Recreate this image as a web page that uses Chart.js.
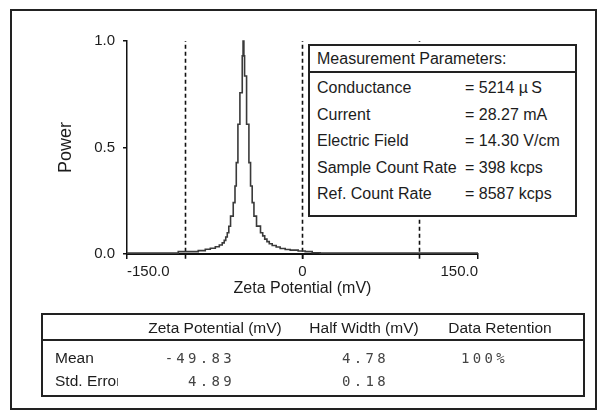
<!DOCTYPE html>
<html><head><meta charset="utf-8">
<script src="https://cdn.jsdelivr.net/npm/chart.js@4.4.1/dist/chart.umd.min.js"></script>
<style>
html,body{margin:0;padding:0;background:#fff;width:606px;height:419px;overflow:hidden}
#wrap{position:relative;width:606px;height:419px;font-family:"Liberation Sans",Arial,sans-serif;color:#1c1c1c}
#c{position:absolute;left:0;top:0}
.abs{position:absolute;white-space:nowrap}
#frame{position:absolute;left:10px;top:9px;width:587px;height:401px;border:2px solid #222;box-sizing:border-box}
#params{position:absolute;left:308px;top:44px;width:269px;height:173px;border:2px solid #222;box-sizing:border-box;background:#fff}
.sep{position:absolute;left:0;right:0;border-top:2px solid #222}
.t16{font-size:16px;line-height:20px}
.t15{font-size:15.5px;line-height:20px}
#table{position:absolute;left:41px;top:313px;width:544px;height:84px;border:2px solid #222;box-sizing:border-box}
.num{font-family:"DejaVu Sans Mono",monospace;font-size:14px;line-height:20px;letter-spacing:3.3px;color:#444}
</style></head><body>
<div id="wrap">
<canvas id="c" width="606" height="419"></canvas>
<div id="frame"></div>
<div id="params"></div>
<div id="table"></div>
</div>
<script>
// ---- data ----
const zetaMV = [-150, -106.2, -89.1, -83.1, -78.8, -74.5, -71.1, -68.6, -66.9, -65.6, -64.3, -63.0, -61.5, -59.2, -57.7, -56.6, -55.2, -53.5, -51.5, -50.8, -50.1, -49.5, -47.8, -45.8, -44.4, -43.0, -41.5, -39.3, -35.9, -34.0, -32.3, -30.4, -28.4, -25.9, -22.5, -19.1, -14.8, -10.5, -3.7, 2.3, 8.3, 15.1, 150];
const power  = [0.004, 0.011, 0.016, 0.022, 0.027, 0.034, 0.042, 0.052, 0.064, 0.08, 0.10, 0.13, 0.178, 0.241, 0.319, 0.429, 0.609, 0.757, 0.93, 1.0, 0.93, 0.836, 0.609, 0.429, 0.319, 0.241, 0.178, 0.131, 0.10, 0.085, 0.07, 0.058, 0.048, 0.04, 0.033, 0.026, 0.021, 0.018, 0.014, 0.011, 0.006, 0.004, 0.004];
const xTickValues = [-150, 0, 150];
const yTickValues = [0, 0.5, 1];
const markerLinesMV = [-100, 0, 100];
const markerLineSpan = [-0.022, 1];
const paramTitle = "Measurement Parameters:";
const paramLabels = ["Conductance", "Current", "Electric Field", "Sample Count Rate", "Ref. Count Rate"];
const paramValues = ["5214 \u00b5\u2009S", "28.27 mA", "14.30 V/cm", "398 kcps", "8587 kcps"];
const tableColumns = ["Zeta Potential (mV)", "Half Width (mV)", "Data Retention"];
const tableRows = ["Mean", "Std. Error"];
const meanValues = ["-49.83", "4.78", "100%"];
const stdErrorValues = ["4.89", "0.18", ""];

const FONT = '"Liberation Sans", Arial, sans-serif';
const TXT = '#1c1c1c';

// ---- chart ----
new Chart(document.getElementById('c'), {
  type: 'line',
  data: {
    datasets: [
      { data: zetaMV.map((x, i) => ({x: x, y: power[i]})), stepped: true, borderColor: '#3a3a3a', borderWidth: 1.6, pointRadius: 0, fill: false, clip: false },
      ...markerLinesMV.map(v => ({ data: markerLineSpan.map(y => ({x: v, y: y})), borderColor: '#111', borderWidth: 1.6, borderDash: [4, 3], pointRadius: 0, fill: false, clip: false }))
    ]
  },
  options: {
    responsive: false, animation: false, events: [],
    layout: { padding: { left: 0, right: 128, top: 41, bottom: 115 } },
    plugins: { legend: { display: false }, tooltip: { enabled: false } },
    scales: {
      x: {
        type: 'linear', position: 'bottom', min: -150, max: 150,
        afterBuildTicks: s => { s.ticks = xTickValues.map(v => ({value: v})); },
        afterFit: s => { s.height = 50; },
        ticks: { align: 'inner', autoSkip: false, maxRotation: 0, padding: 4, color: TXT, font: {family: FONT, size: 15},
                 callback: v => v === 0 ? '0' : v.toFixed(1) },
        grid: { drawOnChartArea: false, drawTicks: true, tickLength: 5, color: '#111', lineWidth: 1.5 },
        border: { display: true, color: '#111', width: 2 },
        title: { display: true, text: 'Zeta Potential (mV)', color: TXT, font: {family: FONT, size: 16}, padding: {top: 0, bottom: 6} }
      },
      y: {
        type: 'linear', position: 'left', min: 0, max: 1,
        afterBuildTicks: s => { s.ticks = yTickValues.map(v => ({value: v})); },
        afterFit: s => { s.width = 127; },
        ticks: { padding: 8, color: TXT, font: {family: FONT, size: 15}, callback: v => v.toFixed(1) },
        grid: { drawOnChartArea: false, drawTicks: true, tickLength: 4, color: '#111', lineWidth: 1.5 },
        border: { display: true, color: '#111', width: 1.5 },
        title: { display: true, text: 'Power', color: TXT, font: {family: FONT, size: 18}, padding: {top: 55, bottom: 0} }
      }
    }
  }
});

// ---- parameter box ----
function el(parent, cls, text, css) {
  const d = document.createElement('div');
  d.className = cls; d.textContent = text; Object.assign(d.style, css || {});
  parent.appendChild(d); return d;
}
const pb = document.getElementById('params');
el(pb, 'abs t16', paramTitle, {left: '7px', top: '3px'});
el(pb, 'sep', '', {top: '25px'});
const rowCenters = [42.3, 69, 95, 121.7, 148.3];
paramLabels.forEach((lab, i) => {
  el(pb, 'abs t16', lab, {left: '7px', top: (rowCenters[i] - 10) + 'px'});
  el(pb, 'abs t16', '= ' + paramValues[i], {left: '155px', top: (rowCenters[i] - 10) + 'px'});
});

// ---- results table ----
const tb = document.getElementById('table');
const colCenters = [172, 321, 457];
tableColumns.forEach((c, i) => {
  el(tb, 'abs t15', c, {left: (colCenters[i] - 100) + 'px', width: '200px', textAlign: 'center', top: '3px'});
});
el(tb, 'sep', '', {top: '24px'});
const rowTops = [33, 56];
tableRows.forEach((r, i) => {
  el(tb, 'abs t15', r, {left: '12px', top: rowTops[i] + 'px', width: '63px', overflow: 'hidden'});
});
const numRight = [189, 343];
[meanValues, stdErrorValues].forEach((vals, ri) => {
  vals.forEach((v, ci) => {
    if (!v) return;
    if (ci < 2) {
      el(tb, 'abs num', v, {left: (numRight[ci] - 150) + 'px', width: '153px', textAlign: 'right', top: rowTops[ri] + 'px'});
    } else {
      el(tb, 'abs num', v, {left: '418px', top: rowTops[ri] + 'px'});
    }
  });
});
</script>
</body></html>
